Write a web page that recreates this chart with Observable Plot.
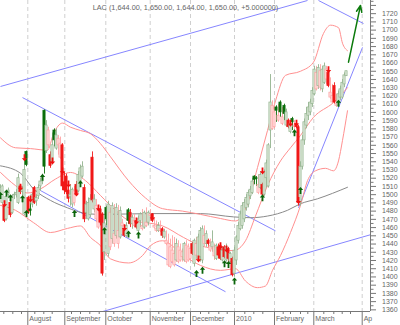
<!DOCTYPE html>
<html><head><meta charset="utf-8">
<script src="https://cdn.jsdelivr.net/npm/d3@7"></script>
<script src="https://cdn.jsdelivr.net/npm/@observablehq/plot@0.6"></script>
<style>body{margin:0;background:#fff}</style>
</head><body><div id="chart"></div>
<script>
const titleText = "LAC (1,644.00, 1,650.00, 1,644.00, 1,650.00, +5.000000)";
const opens = [1498,1490,1486,1470,1500,1490,1478,1499,1500,1490,1510,1503,1476,1552,1496,1482,1488,1508,1492,1498,1510,1516,1602,1553,1560,1548,1540,1578,1556,1560,1545,1560,1515,1522,1505,1497,1488,1490,1512,1504,1516,1522,1508,1478,1470,1475,1545,1482,1470,1460,1482,1476,1430,1484,1428,1436,1446,1440,1450,1440,1448,1462,1458,1450,1481,1478,1464,1462,1468,1456,1468,1458,1460,1462,1466,1474,1476,1460,1456,1456,1456,1458,1448,1440,1414,1412,1418,1414,1420,1418,1420,1424,1420,1418,1420,1422,1440,1416,1426,1422,1424,1420,1440,1440,1444,1432,1436,1425,1422,1436,1438,1420,1436,1420,1434,1418,1422,1404,1420,1444,1458,1462,1470,1484,1488,1498,1502,1522,1520,1502,1508,1512,1500,1520,1510,1578,1580,1582,1606,1590,1612,1586,1608,1584,1590,1576,1592,1582,1586,1582,1490,1534,1566,1584,1596,1600,1610,1622,1628,1632,1630,1628,1636,1640,1648,1618,1612,1632,1608,1608,1618,1618,1634,1644];
const highs = [1512,1512,1488,1500,1508,1492,1500,1503,1506,1525,1512,1510,1541,1553,1498,1490,1502,1510,1500,1512,1520,1525,1603,1590,1582,1552,1575,1580,1580,1572,1570,1562,1527,1525,1510,1512,1508,1510,1516,1528,1536,1540,1512,1492,1496,1500,1552,1500,1494,1486,1486,1478,1470,1486,1492,1484,1490,1488,1489,1487,1485,1470,1459,1466,1483,1482,1475,1476,1470,1474,1478,1482,1480,1484,1480,1482,1477,1472,1468,1466,1468,1460,1458,1456,1452,1446,1450,1448,1446,1444,1440,1434,1442,1444,1440,1440,1442,1446,1448,1452,1460,1462,1462,1456,1446,1446,1456,1440,1440,1440,1440,1436,1438,1440,1436,1430,1424,1436,1450,1466,1480,1490,1494,1500,1505,1510,1520,1523,1522,1524,1528,1514,1530,1542,1562,1646,1614,1612,1608,1610,1614,1606,1610,1604,1592,1590,1594,1590,1590,1584,1540,1572,1592,1606,1612,1616,1630,1656,1656,1658,1658,1656,1660,1656,1650,1642,1634,1636,1622,1626,1632,1640,1648,1650];
const lows = [1494,1488,1466,1468,1495,1472,1476,1494,1496,1488,1500,1490,1474,1534,1476,1474,1484,1488,1486,1494,1504,1512,1525,1550,1556,1532,1536,1558,1554,1548,1543,1505,1500,1500,1490,1486,1484,1486,1498,1502,1514,1520,1466,1470,1468,1472,1490,1478,1466,1458,1462,1401,1420,1462,1424,1432,1440,1436,1446,1434,1446,1450,1448,1448,1464,1460,1458,1460,1458,1452,1460,1456,1458,1460,1462,1470,1466,1458,1454,1454,1454,1447,1446,1438,1412,1410,1416,1412,1418,1416,1418,1418,1418,1416,1418,1420,1426,1412,1420,1420,1418,1416,1436,1436,1436,1430,1430,1420,1420,1422,1420,1418,1422,1418,1418,1416,1400,1400,1414,1440,1456,1458,1466,1480,1484,1494,1500,1512,1510,1500,1506,1498,1498,1508,1508,1556,1578,1580,1588,1588,1594,1584,1590,1582,1580,1574,1578,1576,1580,1486,1486,1530,1560,1580,1590,1596,1606,1620,1626,1628,1626,1624,1634,1634,1630,1616,1610,1610,1606,1606,1614,1616,1630,1644];
const closes = [1508,1510,1468,1497,1505,1475,1498,1500,1502,1520,1503,1506,1530,1536,1478,1480,1500,1490,1496,1508,1516,1520,1534,1584,1578,1535,1560,1566,1572,1568,1562,1510,1505,1503,1495,1500,1506,1504,1500,1524,1532,1534,1470,1488,1490,1495,1493,1494,1486,1480,1466,1404,1465,1470,1488,1478,1486,1452,1484,1456,1480,1465,1450,1462,1468,1464,1472,1468,1460,1470,1476,1462,1478,1466,1478,1476,1468,1462,1458,1462,1458,1450,1455,1444,1440,1436,1432,1428,1440,1436,1432,1430,1440,1438,1436,1434,1428,1444,1440,1448,1456,1458,1450,1452,1440,1438,1442,1436,1438,1426,1422,1432,1424,1436,1422,1428,1402,1432,1448,1462,1476,1486,1490,1496,1502,1506,1516,1518,1519,1512,1524,1500,1526,1538,1560,1612,1608,1600,1602,1596,1600,1594,1598,1600,1582,1586,1588,1584,1582,1490,1534,1566,1588,1598,1606,1612,1626,1652,1648,1654,1650,1652,1656,1652,1632,1624,1620,1612,1610,1622,1628,1636,1645,1650];

const upIdx = [0,3,5,11,13,21,37,40,52,64,69,98,101,112,114,117,131,147,150,169];
const upVal = [1499,1502,1496,1495,1477,1521,1477,1513,1456,1452,1451,1404,1408,1416,1415,1395,1496,1575,1505,1611];
const downIdx = [2,10,12,15,26,31,34,38,49,62,68,76,99,110,113,131,145,148,149,164];
const downVal = [1489,1509,1545,1495,1541,1529,1513,1502,1484,1460,1468,1473,1422,1438,1434,1529,1587,1587,1493,1652];

const upperIdx = [0,7.5,15,23.5,26.5,31,35,40,45,50,55,64,72.5,81,91,100,110,117.5,123.5,128.5,133.5,137.5,142.5,150,156.5,161.5,165,169,171,173.5];
const upperVal = [1569,1557,1556,1554,1574,1587,1582,1578,1574,1562,1546,1517,1496,1483,1480,1476,1471,1468,1489,1533,1578,1614,1645,1650,1661,1696,1706,1703,1684,1675];
const midIdx = [0,7.5,13.5,20,27.5,35,42.5,50,57.5,65,72.5,81,91.5,100,108.5,116.5,122.5,127.5,133.5,140,145,150,156.5,166.5,173.5];
const midVal = [1527,1511,1502,1507,1519,1527,1517,1499,1481,1468,1466,1462,1448,1438,1434,1432,1444,1474,1511,1541,1557,1572,1594,1612,1630];
const lowerIdx = [0,7.5,16.5,25,33.5,40,45,50,55,64,71,75,81,91.5,100,110,117.5,122.5,128.5,132.5,136,140,145,150,153.5,157.5,162.5,166.5,169,171,173.5];
const lowerVal = [1487,1481,1466,1454,1459,1462,1448,1438,1422,1417,1426,1438,1444,1426,1414,1408,1410,1395,1387,1389,1408,1426,1454,1487,1517,1529,1532,1529,1541,1566,1602];
const maIdx = [0,10,16.5,25,33.5,41,50,75,100,116.5,125,133.5,143.5,150,158.5,173.5];
const maVal = [1535,1526,1507,1493,1484,1478,1476,1477,1477,1473,1472,1474,1481,1489,1495,1509];

const trendX1 = [0,11,20,49,159,149];
const trendY1 = [1631.5,1618,1505,1356.5,1736,1484];
const trendX2 = [153.5,137.5,112.5,185,181.5,181];
const trendY2 = [1736,1456,1382,1451.3,1708,1679];
const projection = {x1:174, y1:1661, x2:180, y2:1730};

const monthTicks = [13.65,32.15,52.65,74.85,95,117,137,156.65,180.85];
const monthLabels = ["August","September","October","November","December","2010","February","March","Ap"];
const weekTicks = [1.65,6.15,10.5,17.15,21.65,25.85,35.5,40,44.65,49.35,56.65,61.35,65.85,70.65,79.15,83.35,88,92.15,100,104.15,109.15,113.35,122.15,126.65,131.15,141.35,145,150,153.65,161.65,166.65,170.85,175];
const yMajor = d3.range(1360, 1731, 10);
const yMinor = d3.range(1365, 1736, 10);

const candles = opens.map((o, i) => ({i, open: o, high: highs[i], low: lows[i], close: closes[i]}));
function kind(d) {
  const prev = d.i > 0 ? closes[d.i - 1] : d.open;
  const up = d.close >= prev;
  const filled = d.close < d.open;
  return (up ? "u" : "d") + (filled ? "f" : "h");
}
const strokeOf = {uh: "#93b38f", uf: "#0b6e0b", dh: "#ffa3a3", df: "#f01818"};
const fillOf = {uh: "#dbe8d7", uf: "#0b6e0b", dh: "#ffdcdc", df: "#f01818"};

const upArrow = {draw(c) { c.moveTo(0,-3.6); c.lineTo(2.7,-0.5); c.lineTo(0.9,-0.5); c.lineTo(0.9,3.4); c.lineTo(-0.9,3.4); c.lineTo(-0.9,-0.5); c.lineTo(-2.7,-0.5); c.closePath(); }};
const downArrow = {draw(c) { c.moveTo(0,3.6); c.lineTo(2.7,0.5); c.lineTo(0.9,0.5); c.lineTo(0.9,-3.4); c.lineTo(-0.9,-3.4); c.lineTo(-0.9,0.5); c.lineTo(-2.7,0.5); c.closePath(); }};

const toPts = (xs, ys) => xs.map((x, k) => ({x, y: ys[k]}));
const trends = trendX1.map((x1, k) => ({x1, y1: trendY1[k], x2: trendX2[k], y2: trendY2[k]}));

const chart = Plot.plot({
  width: 400, height: 325,
  marginLeft: 0, marginRight: 30, marginTop: 0, marginBottom: 14,
  style: {fontFamily: "'Liberation Sans', Arial, sans-serif", fontSize: "7px", color: "#555", background: "#fff"},
  x: {type: "linear", domain: [0, 185], axis: null},
  y: {type: "linear", domain: [1358, 1736], axis: null},
  marks: [
    Plot.ruleX(monthTicks, {stroke: "#cfcfcf", strokeDasharray: "4,3"}),
    Plot.link(trends, {x1: "x1", y1: "y1", x2: "x2", y2: "y2", stroke: "#8686ff", strokeWidth: 1, clip: true}),
    Plot.line(toPts(maIdx, maVal), {x: "x", y: "y", stroke: "#8a8a8a", strokeWidth: 1, curve: "monotone-x"}),
    Plot.line(toPts(upperIdx, upperVal), {x: "x", y: "y", stroke: "#ff9090", strokeWidth: 1, curve: "monotone-x"}),
    Plot.line(toPts(midIdx, midVal), {x: "x", y: "y", stroke: "#ff9090", strokeWidth: 1, curve: "monotone-x"}),
    Plot.line(toPts(lowerIdx, lowerVal), {x: "x", y: "y", stroke: "#ff9090", strokeWidth: 1, curve: "monotone-x"}),
    Plot.ruleX(candles, {x: "i", y1: "low", y2: "high", stroke: d => strokeOf[kind(d)], strokeWidth: 0.9}),
    Plot.rect(candles, {x1: d => d.i - 0.55, x2: d => d.i + 0.55, y1: "open", y2: "close", fill: d => fillOf[kind(d)], stroke: d => strokeOf[kind(d)], strokeWidth: 0.7}),
    Plot.dot(toPts(upIdx, upVal), {x: "x", y: "y", symbol: upArrow, fill: "#0a640a", stroke: "none"}),
    Plot.dot(toPts(downIdx, downVal), {x: "x", y: "y", symbol: downArrow, fill: "#f01010", stroke: "none"}),
    Plot.arrow([projection], {x1: "x1", y1: "y1", x2: "x2", y2: "y2", stroke: "#0b7a0b", strokeWidth: 1.5, headLength: 7, headAngle: 45}),
    Plot.ruleY([1358], {stroke: "#777"}),
    Plot.ruleX([185], {stroke: "#777"}),
    Plot.axisY({anchor: "right", ticks: yMajor, tickSize: 5, tickPadding: 6.5, fontSize: 7, tickFormat: d => d <= 1720 ? String(d) : "", stroke: "#777", fill: "#666"}),
    Plot.axisY({anchor: "right", ticks: yMinor, tickSize: 2.5, tickFormat: () => "", stroke: "#777"}),
    Plot.axisX({ticks: monthTicks, tickSize: 14, tickFormat: () => "", stroke: "#777"}),
    Plot.axisX({ticks: weekTicks, tickSize: 3, tickFormat: () => "", stroke: "#777"}),
    Plot.text(monthLabels, {x: (d, k) => monthTicks[k], frameAnchor: "bottom", dy: 9, dx: 1.5, textAnchor: "start", fontSize: 7, fill: "#666"}),
    Plot.text([titleText], {frameAnchor: "top", dy: 7.5, fontSize: 7.3, fill: "#666", lineAnchor: "middle"})
  ]
});
document.getElementById("chart").appendChild(chart);
</script>
</body></html>
